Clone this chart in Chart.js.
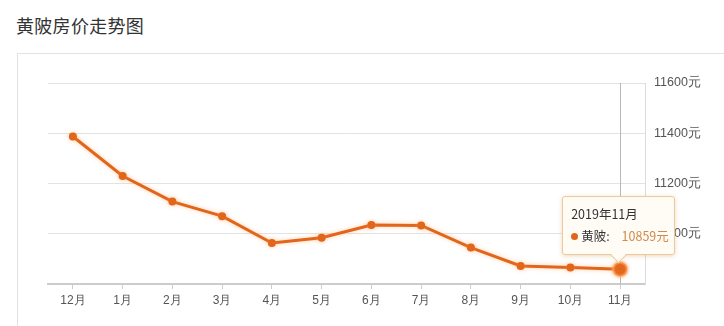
<!DOCTYPE html>
<html>
<head>
<meta charset="utf-8">
<script src="https://cdn.jsdelivr.net/npm/chart.js@4/dist/chart.umd.min.js"></script>
<style>
  html, body { margin: 0; padding: 0; background: #fff; }
  body { width: 724px; height: 326px; position: relative; overflow: hidden; font-family: "Noto Sans CJK SC", "Noto Sans", sans-serif; }
  #title { position: absolute; left: 16px; top: 12px; font-size: 18px; color: #333; letter-spacing: 0.3px; }
  #card { position: absolute; left: 17px; top: 53px; width: 760px; height: 320px; border: 1px solid #e2e2e2; }
  #wrap { position: absolute; left: 0; top: 0; width: 724px; height: 326px; }
  #tip {
    position: absolute; box-sizing: border-box; width: 113px; height: 59px;
    background: #fffcf6; border: 1px solid #efc99a; border-radius: 3px;
    box-shadow: 0 1px 4px rgba(200,140,60,0.35); font-size: 12.5px; color: #333;
    padding: 7px 0 0 8px; pointer-events: none; display: none;
  }
  #tip .t1 { height: 22px; }
  #tip .dot { display: inline-block; width: 7px; height: 7px; border-radius: 50%; background: #e2651c; margin-right: 3px; vertical-align: 1px; }
  #tip .val { color: #cf8a4c; margin-left: 12px; }
  #tip .arr { position: absolute; left: 50%; bottom: -7px; width: 10px; height: 10px; margin-left: -6px;
    background: #fffcf6; border-right: 1px solid #efc99a; border-bottom: 1px solid #efc99a; transform: rotate(45deg); }
</style>
</head>
<body>
<div id="title">黄陂房价走势图</div>
<div id="card"></div>
<div id="wrap"><canvas id="myChart" width="724" height="326"></canvas></div>
<div id="tip"><div class="t1"></div><div class="t2"></div><div class="arr"></div></div>
<script>
// mois affichés sur l'axe x
const months = ["12月", "1月", "2月", "3月", "4月", "5月", "6月", "7月", "8月", "9月", "10月", "11月"];
// titre complet de chaque mois (pour le tooltip)
const monthTitles = ["2018年12月", "2019年1月", "2019年2月", "2019年3月", "2019年4月", "2019年5月",
  "2019年6月", "2019年7月", "2019年8月", "2019年9月", "2019年10月", "2019年11月"];
// prix moyen (元/m²)
const prices = [11387, 11230, 11128, 11070, 10963, 10984, 11035, 11033, 10945, 10872, 10866, 10859];
const seriesName = "黄陂";
const yTicks = [10800, 11000, 11200, 11400, 11600];

const activeIndex = prices.length - 1;

// ligne verticale sur le point actif
const crossPlugin = {
  id: "cross",
  beforeDatasetsDraw(chart) {
    const act = chart.getActiveElements();
    if (!act.length) return;
    const x = act[0].element.x;
    const ctx = chart.ctx;
    ctx.save();
    ctx.strokeStyle = "#b8b8b8";
    ctx.lineWidth = 1;
    ctx.beginPath();
    ctx.moveTo(Math.round(x) + 0.5, chart.chartArea.top);
    ctx.lineTo(Math.round(x) + 0.5, chart.chartArea.bottom);
    ctx.stroke();
    ctx.restore();
  },
};

// ombre orange autour de la ligne
const glowPlugin = {
  id: "glow",
  beforeDatasetsDraw(chart) {
    const ctx = chart.ctx;
    ctx.save();
    ctx.shadowColor = "rgba(255,160,80,0.5)";
    ctx.shadowBlur = 4;
  },
  afterDatasetsDraw(chart) {
    chart.ctx.restore();
  },
};

function externalTip(context) {
  const tip = document.getElementById("tip");
  const model = context.tooltip;
  if (model.opacity === 0 || !model.dataPoints || !model.dataPoints.length) {
    tip.style.display = "none";
    return;
  }
  const dp = model.dataPoints[0];
  tip.querySelector(".t1").textContent = monthTitles[dp.dataIndex];
  tip.querySelector(".t2").innerHTML =
    '<span class="dot"></span>' + seriesName + ':<span class="val">' + prices[dp.dataIndex] + "元</span>";
  const el = dp.element;
  tip.style.display = "block";
  tip.style.left = (el.x - 58) + "px";
  tip.style.top = (el.y - 73) + "px";
}

const data = {
  labels: months,
  datasets: [
    {
      label: seriesName,
      data: prices,
      borderColor: "#e2651c",
      backgroundColor: "#e2651c",
      borderWidth: 3,
      pointRadius: 4,
      pointBackgroundColor: "#e2651c",
      pointBorderWidth: 0,
      pointHoverRadius: 7,
      pointHoverBorderWidth: 3,
      pointHoverBorderColor: "rgba(255,170,100,0.5)",
      pointHoverBackgroundColor: "#e2651c",
      tension: 0,
    },
  ],
};

const config = {
  type: "line",
  data: data,
  options: {
    responsive: false,
    animation: false,
    events: [],
    layout: { padding: { left: 48, top: 83, right: 0, bottom: 0 } },
    plugins: {
      legend: { display: false },
      tooltip: { enabled: false, external: externalTip },
    },
    scales: {
      x: {
        offset: true,
        grid: {
          offset: false,
          drawOnChartArea: false,
          drawTicks: true,
          tickLength: 5,
          color: "#ccc",
        },
        border: { color: "#ccc", width: 2 },
        ticks: { color: "#555", font: { size: 12 }, padding: 4, maxRotation: 0, autoSkip: false },
        afterFit(scale) { scale.height = 42; },
      },
      y: {
        position: "right",
        min: yTicks[0],
        max: yTicks[yTicks.length - 1],
        afterBuildTicks(scale) { scale.ticks = yTicks.map(v => ({ value: v })); },
        grid: { color: "#e3e3e3", drawTicks: false },
        border: { display: true, color: "#dcdcdc" },
        ticks: {
          color: "#555",
          font: { size: 12.5 },
          padding: 9,
          callback: (v) => (v === yTicks[0] ? "" : v + "元"),
        },
        afterFit(scale) { scale.width = 79; },
      },
    },
  },
  plugins: [crossPlugin, glowPlugin],
};

const context = document.getElementById("myChart").getContext("2d");
const chart = new Chart(context, config);

const pt = chart.getDatasetMeta(0).data[activeIndex];
chart.setActiveElements([{ datasetIndex: 0, index: activeIndex }]);
chart.tooltip.setActiveElements([{ datasetIndex: 0, index: activeIndex }], { x: pt.x, y: pt.y });
chart.update();
</script>
</body>
</html>
